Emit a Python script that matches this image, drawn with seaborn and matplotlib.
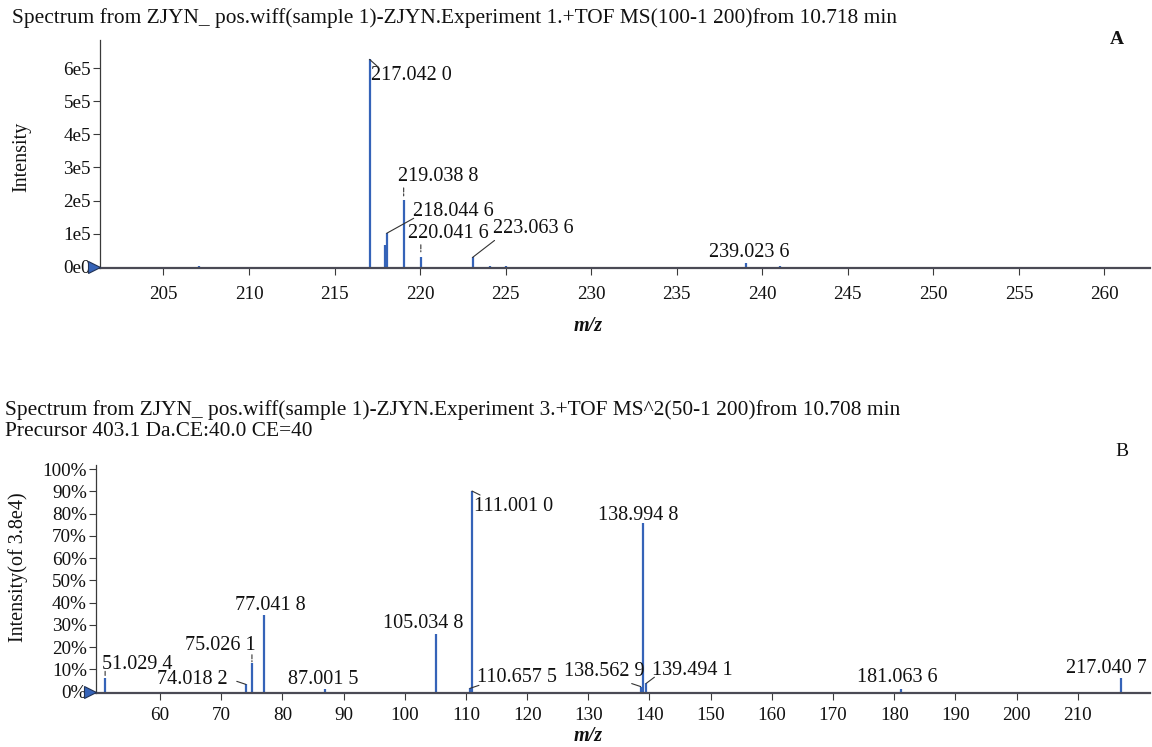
import numpy as np
import matplotlib
matplotlib.use("Agg")
import matplotlib.pyplot as plt
import matplotlib.transforms as mtransforms
import seaborn as sns

# ---- MS1 spectrum (panel A) ----
ms1_mz = [207.05, 217.0420, 217.95, 218.0446, 219.0388, 220.0416, 223.0636,
          224.07, 225.02, 239.0236, 241.01]
ms1_int = [0.01e5, 6.27e5, 0.66e5, 1.01e5, 2.02e5, 0.30e5, 0.28e5,
           0.03e5, 0.015e5, 0.10e5, 0.03e5]
ms1_labels = ["217.042 0", "218.044 6", "219.038 8", "220.041 6", "223.063 6", "239.023 6"]
ms1_label_mz = [217.0420, 218.0446, 219.0388, 220.0416, 223.0636, 239.0236]
ms1_yticks = [0, 1e5, 2e5, 3e5, 4e5, 5e5, 6e5]
ms1_yticklabels = ["0e0", "1e5", "2e5", "3e5", "4e5", "5e5", "6e5"]
ms1_xticks = list(range(205, 261, 5))

# ---- MS/MS spectrum (panel B), relative intensity in % ----
ms2_mz = [51.0294, 74.0182, 75.0261, 77.0418, 87.0015, 105.0348, 110.6575,
          111.0010, 138.5629, 138.9948, 139.4941, 181.0636, 217.0407]
ms2_int = [6.0, 3.3, 13.0, 34.5, 1.0, 25.9, 1.5, 90.2, 2.3, 75.7, 3.8, 1.2, 6.0]
ms2_labels = ["51.029 4", "74.018 2", "75.026 1", "77.041 8", "87.001 5", "105.034 8",
              "110.657 5", "111.001 0", "138.562 9", "138.994 8", "139.494 1",
              "181.063 6", "217.040 7"]
ms2_yticks = list(range(0, 101, 10))
ms2_yticklabels = [f"{v}%" for v in ms2_yticks]
ms2_xticks = list(range(60, 211, 10))

title_a = "Spectrum from ZJYN_ pos.wiff(sample 1)-ZJYN.Experiment 1.+TOF MS(100-1 200)from 10.718 min"
title_b1 = "Spectrum from ZJYN_ pos.wiff(sample 1)-ZJYN.Experiment 3.+TOF MS^2(50-1 200)from 10.708 min"
title_b2 = "Precursor 403.1 Da.CE:40.0 CE=40"

# ---- label placement: (text dx, text dy, leader start dx, dy, leader gap px, style), in pixels ----
ms1_layout = {
    "217.042 0": (1, -16, 9, -8, 0, "-"),
    "218.044 6": (26, 22, 27, 15, 0, "-"),
    "219.038 8": (-6, 23, 0, 12, 4, "--"),
    "220.041 6": (-13, 23, 0, 12, 5, "--"),
    "223.063 6": (20, 29, 22, 17, 0, "-"),
    "239.023 6": (-37, 11, None, None, 0, None),
}
ms2_layout = {
    "51.029 4": (-3, 14, 0, 7, 2, "--"),
    "74.018 2": (-89, 5, -9, 3, 0, "-"),
    "75.026 1": (-67, 17, 0, 8, 1, "--"),
    "77.041 8": (-29, 9, None, None, 0, None),
    "87.001 5": (-37, 10, None, None, 0, None),
    "105.034 8": (-53, 11, None, None, 0, None),
    "110.657 5": (7, 11, 9, 3, 0, "-"),
    "111.001 0": (2, -15, 8, -4, 0, "-"),
    "138.562 9": (-77, 15, -9, 3, 0, "-"),
    "138.994 8": (-45, 8, None, None, 0, None),
    "139.494 1": (6, 13, 8, 6, 0, "-"),
    "181.063 6": (-44, 12, None, None, 0, None),
    "217.040 7": (-55, 10, None, None, 0, None),
}

sns.set_theme(style="ticks")
FONT = ["Liberation Serif", "DejaVu Serif"]
plt.rcParams["font.family"] = FONT
TXT = "#111111"
STEM = "#3563b8"
AXC = "#3a3a3a"
FS_TICK = 13.8
FS_LAB = 14.5
FS_TITLE = 15.4

W, H = 1152, 747
fig = plt.figure(figsize=(W / 100, H / 100), dpi=100)
fig.patch.set_facecolor("white")

ax1 = fig.add_axes([100 / W, 1 - 268.3 / H, 1050 / W, 228.3 / H])
ax2 = fig.add_axes([96 / W, 1 - 692.8 / H, 1054 / W, 227.8 / H])


def style_axis(ax, xlim, ylim, xticks, yticks, yticklabels, xpad):
    ax.set_facecolor("white")
    ax.set_xlim(*xlim)
    ax.set_ylim(*ylim)
    ax.set_xticks(xticks)
    ax.set_xticklabels([str(t) for t in xticks])
    ax.set_yticks(yticks)
    ax.set_yticklabels(yticklabels)
    ax.tick_params(axis="both", direction="out", length=5, width=0.8, color=AXC,
                   labelsize=FS_TICK, labelcolor=TXT, pad=1.5)
    ax.tick_params(axis="x", pad=xpad)
    sns.despine(ax=ax)
    ax.spines["left"].set_color(AXC)
    ax.spines["left"].set_linewidth(0.9)
    ax.spines["bottom"].set_color("#4a4a55")
    ax.spines["bottom"].set_linewidth(1.6)
    ax.grid(False)
    # origin marker at the foot of the intensity axis
    shift = mtransforms.ScaledTranslation(-6 / 100, 0, fig.dpi_scale_trans)
    ax.plot([xlim[0]], [0], marker=">", ms=8, color=STEM, mec="#223355", mew=0.8,
            clip_on=False, transform=ax.transData + shift, zorder=5)


def draw_labels(ax, mzs, ints, labels, layout, label_mz=None):
    lookup = dict(zip(mzs, ints))
    targets = label_mz if label_mz is not None else mzs
    for mz, lab in zip(targets, labels):
        inten = lookup[mz]
        dx, dy, lx, ly, gap, ls = layout[lab]
        ax.annotate(lab, xy=(mz, inten), xytext=(dx, dy), textcoords="offset pixels",
                    ha="left", va="center", fontsize=FS_LAB, color=TXT)
        if ls is not None:
            ax.annotate("", xy=(mz, inten), xytext=(lx, ly), textcoords="offset pixels",
                        arrowprops=dict(arrowstyle="-", color="#333333", lw=0.8,
                                        linestyle=ls, shrinkA=0, shrinkB=gap * 0.72))


# Panel A
ax1.vlines(ms1_mz, 0, ms1_int, color=STEM, lw=1.6)
style_axis(ax1, (201.29, 262.66), (-4800, 6.855e5), ms1_xticks, ms1_yticks,
           ms1_yticklabels, xpad=8)
draw_labels(ax1, ms1_mz, ms1_int, ms1_labels, ms1_layout, ms1_label_mz)
ax1.set_ylabel("Intensity", fontsize=FS_LAB, color=TXT)
ax1.yaxis.set_label_coords((31 - 100) / 1050, (268.3 - 157) / 228.3)
ax1.set_xlabel("m/z", fontsize=FS_LAB, color=TXT, style="italic", weight="bold")
ax1.xaxis.set_label_coords((588 - 100) / 1050, (268.3 - 316) / 228.3)

# Panel B
ax2.vlines(ms2_mz, 0, ms2_int, color=STEM, lw=1.6)
style_axis(ax2, (49.54, 221.8), (-0.5, 101.9), ms2_xticks, ms2_yticks,
           ms2_yticklabels, xpad=5)
draw_labels(ax2, ms2_mz, ms2_int, ms2_labels, ms2_layout)
ax2.set_ylabel("Intensity(of 3.8e4)", fontsize=FS_LAB, color=TXT)
ax2.yaxis.set_label_coords((28 - 96) / 1054, (692.8 - 567) / 227.8)
ax2.set_xlabel("m/z", fontsize=FS_LAB, color=TXT, style="italic", weight="bold")
ax2.xaxis.set_label_coords((588 - 96) / 1054, (692.8 - 726) / 227.8)

# Headers and panel letters
fig.text(12 / W, 1 - 18 / H, title_a, ha="left", va="center", fontsize=FS_TITLE, color=TXT)
fig.text(5 / W, 1 - 410 / H, title_b1, ha="left", va="center", fontsize=FS_TITLE, color=TXT)
fig.text(5 / W, 1 - 432 / H, title_b2, ha="left", va="center", fontsize=FS_TITLE, color=TXT)
fig.text(1117 / W, 1 - 40 / H, "A", ha="center", va="center", fontsize=14, color=TXT, weight="bold")
fig.text(1122 / W, 1 - 452 / H, "B", ha="center", va="center", fontsize=14, color=TXT)

fig.savefig("out.png", dpi=100, facecolor="white")
